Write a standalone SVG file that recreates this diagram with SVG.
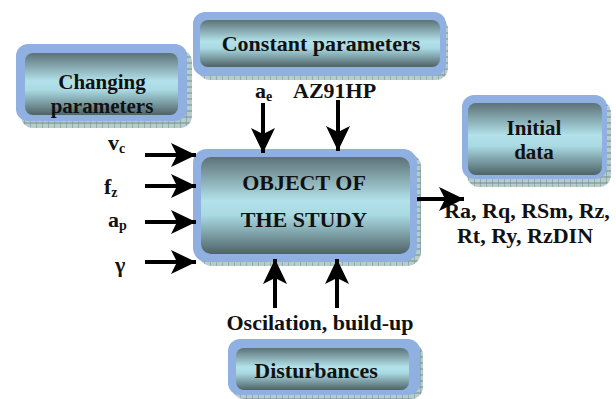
<svg xmlns="http://www.w3.org/2000/svg" width="616" height="399" viewBox="0 0 616 399">
<style>
.outer{fill:#8fb0e0;}
.inner{fill:url(#g);}
.shadow{fill:url(#hatch);}
.t{font-family:"Liberation Serif","Times New Roman",serif;font-weight:bold;fill:#111;font-size:22px;text-anchor:middle;}
.t2{font-family:"Liberation Serif","Times New Roman",serif;font-weight:bold;fill:#111;font-size:21px;text-anchor:middle;}
.l{font-family:"Liberation Serif","Times New Roman",serif;font-weight:bold;fill:#111;font-size:22px;}
.arr{stroke:#000;stroke-width:4;fill:none;marker-end:url(#ah);}
</style>
<defs>
<linearGradient id="g" x1="0" y1="0" x2="0" y2="1">
<stop offset="0" stop-color="#5c7277"/>
<stop offset="0.45" stop-color="#b2e1ea"/>
<stop offset="0.6" stop-color="#a9d9e2"/>
<stop offset="1" stop-color="#4e6367"/>
</linearGradient>
<pattern id="hatch" width="6" height="6" patternUnits="userSpaceOnUse">
<rect width="6" height="6" fill="#b9cccc"/>
<path d="M0,0 V6 M0,3 H6" stroke="#6f9090" stroke-width="1"/>
</pattern>
<marker id="ah" markerUnits="userSpaceOnUse" markerWidth="25" markerHeight="24" viewBox="0 0 25 24" refX="25" refY="12" orient="auto">
<path d="M0,0 L25,12 L0,24 L6,12 Z" fill="#000"/>
</marker>
</defs>

<g id="changing">
<rect class="shadow" x="21" y="50" width="171" height="78" rx="12"/>
<rect class="outer" x="16" y="44" width="171" height="77" rx="12"/>
<rect class="inner" x="25" y="53" width="153" height="62" rx="8"/>
<text class="t2" x="102" y="89">Changing</text>
<text class="t2" x="102" y="112.5">parameters</text>
</g>

<g id="constant">
<rect class="shadow" x="198" y="17" width="250" height="63" rx="12"/>
<rect class="outer" x="193" y="12" width="253" height="64" rx="12"/>
<rect class="inner" x="200" y="20" width="240" height="47" rx="8"/>
<text class="t" x="321" y="51">Constant parameters</text>
</g>

<g id="object">
<rect class="shadow" x="198" y="153" width="223" height="113" rx="14"/>
<rect class="outer" x="193" y="149" width="224" height="113" rx="14"/>
<rect class="inner" x="201" y="157" width="209" height="97" rx="10"/>
<text class="t" x="304" y="190">OBJECT OF</text>
<text class="t" x="304" y="227">THE STUDY</text>
</g>

<g id="initial">
<rect class="shadow" x="467" y="101" width="144" height="86" rx="12"/>
<rect class="outer" x="462" y="95" width="145" height="84" rx="12"/>
<rect class="inner" x="468" y="103" width="134" height="72" rx="8"/>
<text class="t2" x="534" y="135">Initial</text>
<text class="t2" x="534" y="158.5">data</text>
</g>

<g id="disturbances">
<rect class="shadow" x="232" y="343" width="191" height="56" rx="12"/>
<rect class="outer" x="228" y="339" width="192" height="56" rx="12"/>
<rect class="inner" x="236" y="348" width="173" height="42" rx="8"/>
<text class="t" x="316" y="378">Disturbances</text>
</g>

<g id="labels">
<text class="l" x="108" y="150">v<tspan font-size="14" dy="3">c</tspan></text>
<text class="l" x="104" y="194">f<tspan font-size="14" dy="3">z</tspan></text>
<text class="l" x="108" y="227">a<tspan font-size="14" dy="3">p</tspan></text>
<text class="l" x="115" y="272">γ</text>
<text class="l" x="255" y="98">a<tspan font-size="14" dy="3">e</tspan></text>
<text class="l" x="293" y="98">AZ91HP</text>
<text class="t" x="527" y="218">Ra, Rq, RSm, Rz,</text>
<text class="t" x="525" y="243">Rt, Ry, RzDIN</text>
<text class="t" x="320" y="330">Oscilation, build-up</text>
</g>

<g id="connectors">
<line class="arr" x1="145" y1="155" x2="196" y2="155"/>
<line class="arr" x1="145" y1="186" x2="196" y2="186"/>
<line class="arr" x1="145" y1="222" x2="196" y2="222"/>
<line class="arr" x1="145" y1="262" x2="196" y2="262"/>
<line class="arr" x1="263" y1="103" x2="263" y2="153"/>
<line class="arr" x1="338" y1="100" x2="338" y2="151"/>
<line class="arr" x1="275" y1="308" x2="275" y2="259"/>
<line class="arr" x1="337" y1="308" x2="337" y2="259"/>
<line class="arr" x1="417" y1="199" x2="464" y2="199"/>
</g>
</svg>
